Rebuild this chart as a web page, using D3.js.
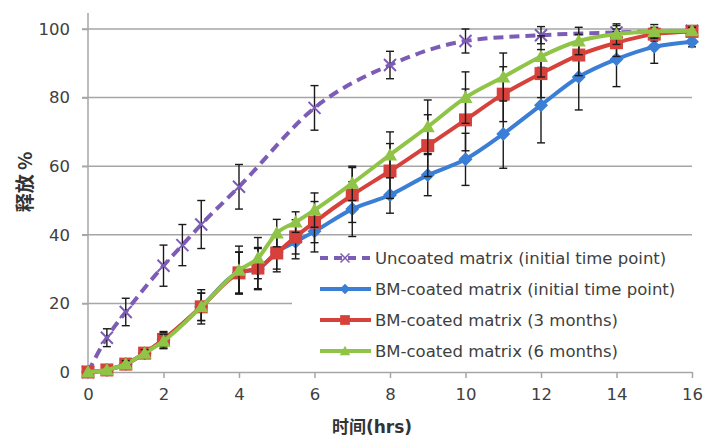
<!DOCTYPE html>
<html><head><meta charset="utf-8">
<script src="https://cdn.jsdelivr.net/npm/d3@7"></script>
<style>body{margin:0;background:#fff}svg{display:block}</style>
</head><body><svg id="c" width="704" height="438"></svg>
<script>
const xTicks = [0,2,4,6,8,10,12,14,16];
const yTicks = [0,20,40,60,80,100];
const xUncoated = [0,0.5,1,2,2.5,3,4,6,8,10,12,14,16];
const uncoated = [0,10,17.5,31,37,43,54,77,89.5,96.5,98.2,99,99.5];
const uncoatedErr = [0,2.6,4,6,6,7,6.5,6.5,4,3.5,2.5,2,1.5];
const xBM = [0,0.5,1,1.5,2,3,4,4.5,5,5.5,6,7,8,9,10,11,12,13,14,15,16];
const bmInitial = [0,0.6,2.3,5.5,9.3,19,29,30,35,38,41,47.5,51.6,57.4,62,69.4,77.8,86,91.2,94.8,96.3];
const bmInitialErr = [0,0.5,1,1,2.5,4,6,6,5,5,6,8,5.3,6,7.6,10,11,9.6,8,4.8,1.5];
const bm3 = [0,0.6,2.3,5.5,9.5,19,28.9,30.3,34.7,39.4,43.7,51.6,58.6,66,73.5,81,87,92.4,96,98.5,99.3];
const bm3Err = [0,0.5,1,1,2,5,6,6,5.5,5,6,8,8,9,9,8,7,6,4,2,1];
const bm6 = [0,0.6,2.3,5.5,9,19,29.7,33.2,40.5,43.7,47.2,55,63.3,71.5,80,86,92,96.5,98.5,99.3,99.5];
const bm6Err = [0,0.5,1,1,2,4,7,6,4,3,5,5,6.7,7.8,7.5,7,6,4,3,2,1];
const legendLabels = ["Uncoated matrix (initial time point)","BM-coated matrix (initial time point)","BM-coated matrix (3 months)","BM-coated matrix (6 months)"];
const colors = ["#7d5cb6","#3a7fd5","#d6423b","#8fc446"];

const svg = d3.select("#c");
const x = d3.scaleLinear().domain([0,16]).range([88,692]);
const y = d3.scaleLinear().domain([0,100]).range([372,29]);
const font = "'DejaVu Sans', Verdana, sans-serif";
const txt = "#404040";

// gridlines
svg.append("g").selectAll("line").data(yTicks.filter(d=>d>0)).join("line")
  .attr("x1",82).attr("x2",692).attr("y1",d=>y(d)).attr("y2",d=>y(d))
  .attr("stroke","#a6a6a6").attr("stroke-width",1.5);

// y axis
const ya = svg.append("g").attr("transform","translate(88,0)")
  .call(d3.axisLeft(y).tickValues(yTicks).tickSize(6).tickPadding(12));
ya.select(".domain").remove();
ya.selectAll(".tick line").attr("stroke","#a6a6a6").attr("stroke-width",1.5);
ya.selectAll("text").attr("font-family",font).attr("font-size",16.5).attr("fill",txt);
svg.append("line").attr("x1",88).attr("x2",88).attr("y1",13).attr("y2",372)
  .attr("stroke","#a6a6a6").attr("stroke-width",1.5);

// x axis
const xa = svg.append("g").attr("transform","translate(0,372)")
  .call(d3.axisBottom(x).tickValues(xTicks).tickSize(6).tickPadding(10).tickSizeOuter(0));
xa.select(".domain").attr("stroke","#a6a6a6").attr("stroke-width",1.5);
xa.selectAll(".tick line").attr("stroke","#a6a6a6").attr("stroke-width",1.5);
xa.selectAll("text").attr("font-family",font).attr("font-size",16.5).attr("fill",txt);

// legend background
svg.append("rect").attr("x",292).attr("y",240).attr("width",400).attr("height",128).attr("fill","#fff");

// series
const series = [
  {xs:xUncoated, ys:uncoated, err:uncoatedErr, c:colors[0], m:"x", dash:"10,6"},
  {xs:xBM, ys:bmInitial, err:bmInitialErr, c:colors[1], m:"diamond"},
  {xs:xBM, ys:bm3, err:bm3Err, c:colors[2], m:"square"},
  {xs:xBM, ys:bm6, err:bm6Err, c:colors[3], m:"triangle"}
];

function marker(g, type, c){
  if(type==="x"){
    g.append("path").attr("d","M-6,-6L6,6M-6,6L6,-6").attr("stroke",c).attr("stroke-width",2).attr("fill","none");
  } else if(type==="diamond"){
    g.append("path").attr("d","M0,-7L7,0L0,7L-7,0Z").attr("fill",c);
  } else if(type==="square"){
    g.append("rect").attr("x",-6.5).attr("y",-6.5).attr("width",13).attr("height",13).attr("fill",c);
  } else {
    g.append("path").attr("d","M0,-7L7,5.5L-7,5.5Z").attr("fill",c);
  }
}

series.forEach(s=>{
  const pts = s.xs.map((d,i)=>[d,s.ys[i],s.err[i]]);
  const g = svg.append("g");
  g.append("path").datum(pts)
    .attr("d",d3.line().x(d=>x(d[0])).y(d=>y(d[1])).curve(d3.curveMonotoneX))
    .attr("fill","none").attr("stroke",s.c).attr("stroke-width",4)
    .attr("stroke-dasharray",s.dash||null);
  const eb = g.append("g").attr("stroke","#1a1a1a").attr("stroke-width",1.4);
  pts.filter(d=>d[2]>0.8).forEach(d=>{
    const cx=x(d[0]);
    eb.append("line").attr("x1",cx).attr("x2",cx).attr("y1",y(d[1]+d[2])).attr("y2",y(d[1]-d[2]));
    eb.append("line").attr("x1",cx-4).attr("x2",cx+4).attr("y1",y(d[1]+d[2])).attr("y2",y(d[1]+d[2]));
    eb.append("line").attr("x1",cx-4).attr("x2",cx+4).attr("y1",y(d[1]-d[2])).attr("y2",y(d[1]-d[2]));
  });
  pts.forEach(d=>{
    marker(g.append("g").attr("transform",`translate(${x(d[0])},${y(d[1])})`), s.m, s.c);
  });
});

// legend
const lg = svg.append("g");
legendLabels.forEach((t,i)=>{
  const yy = 258 + i*31;
  const s = series[i];
  lg.append("line").attr("x1",320).attr("x2",371).attr("y1",yy).attr("y2",yy)
    .attr("stroke",s.c).attr("stroke-width",4).attr("stroke-dasharray",i===0?"8,6":null);
  marker(lg.append("g").attr("transform",`translate(345,${yy}) scale(0.75)`), s.m, s.c);
  lg.append("text").attr("x",375).attr("y",yy).attr("dy","0.36em")
    .attr("font-family",font).attr("font-size",16.5).attr("fill",txt).text(t);
});

// axis titles
const xt = svg.append("text").attr("x",332).attr("y",433)
  .attr("font-family",font).attr("font-size",17).attr("font-weight","bold").attr("fill","#333");
xt.append("tspan").attr("font-family","'Noto Sans CJK SC', sans-serif").text("时间");
xt.append("tspan").text("(hrs)");
svg.append("text").attr("transform","translate(32,182) rotate(-90)").attr("text-anchor","middle")
  .attr("font-family","'Noto Sans CJK SC', sans-serif").attr("font-size",19).attr("font-weight","bold").attr("fill","#333")
  .text("释放 %");
</script></body></html>
